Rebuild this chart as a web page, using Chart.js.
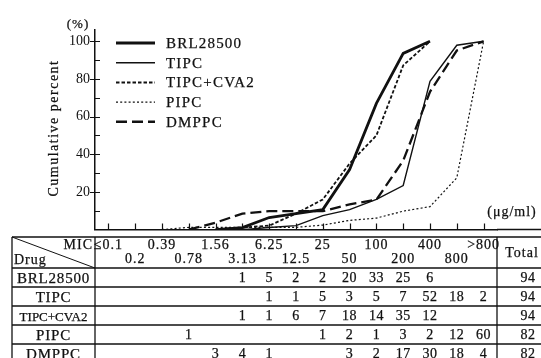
<!DOCTYPE html>
<html>
<head>
<meta charset="utf-8">
<script src="https://cdn.jsdelivr.net/npm/chart.js@4/dist/chart.umd.min.js"></script>
<style>
  html, body { margin: 0; padding: 0; background: #fff; }
  #wrap { position: relative; width: 541px; height: 358px; overflow: hidden; background: #fff;
          color: #111; font-family: "Liberation Serif", "DejaVu Serif", serif; }
  #cumChart { position: absolute; left: 0; top: 0; }
  .txt { position: absolute; white-space: nowrap; line-height: 1; transform: translate(-50%, -50%);
         -webkit-text-stroke: 0.25px #111; }
  #ytitle { left: 54px; top: 128px; font-size: 14px; letter-spacing: 1.5px;
            transform: translate(-50%, -50%) rotate(-90deg); }
  #lines { position: absolute; left: 0; top: 0; }
</style>
</head>
<body>
<div id="wrap">
  <canvas id="cumChart" width="541" height="243"></canvas>
  <div class="txt" style="left:78px;top:23px;font-size:13px;letter-spacing:1px">(%)</div>
  <div class="txt" id="ytitle">Cumulative percent</div>
  <div class="txt" style="left:512px;top:212px;font-size:14px;letter-spacing:1px">(μg/ml)</div>
  <svg id="lines" width="541" height="358"></svg>
  <div id="legend"></div>
  <div id="table"></div>
</div>
<script>
// MIC classes (µg/ml)
const micLabels = ['≤0.1', '0.2', '0.39', '0.78', '1.56', '3.13', '6.25', '12.5', '25', '50', '100', '200', '400', '800', '>800'];
const drugNames = ['BRL28500', 'TIPC', 'TIPC+CVA2', 'PIPC', 'DMPPC'];

// cumulative percent
const brlCum   = [null, null, null, null, 0, 1.1, 6.4, 8.5, 10.6, 31.9, 67.0, 93.6, 100, null, null];
const tipcCum  = [null, null, null, null, null, 0, 1.1, 2.1, 7.4, 10.6, 16.0, 23.4, 78.7, 97.9, 100];
const cva2Cum  = [null, null, null, null, 0, 1.1, 2.1, 8.5, 16.0, 35.1, 50.0, 87.2, 100, null, null];
const pipcCum  = [null, null, 0, 1.2, 1.2, 1.2, 1.2, 1.2, 2.4, 4.9, 6.1, 9.8, 12.2, 27.5, 100];
const dmppcCum = [null, null, null, 0, 3.7, 8.5, 9.8, 9.8, 9.8, 13.4, 15.9, 36.6, 73.2, 95.1, 100];

// number of strains per MIC class (table under the graph)
const brlCount   = [null, null, null, null, null, 1, 5, 2, 2, 20, 33, 25, 6, null, null];
const tipcCount  = [null, null, null, null, null, null, 1, 1, 5, 3, 5, 7, 52, 18, 2];
const cva2Count  = [null, null, null, null, null, 1, 1, 6, 7, 18, 14, 35, 12, null, null];
const pipcCount  = [null, null, null, 1, null, null, null, null, 1, 2, 1, 3, 2, 12, 60];
const dmppcCount = [null, null, null, null, 3, 4, 1, null, null, 3, 2, 17, 30, 18, 4];
const totals = [94, 94, 94, 82, 82];

const yTickLabels = [20, 40, 60, 80, 100];

const INK = '#111';
const cumData = [brlCum, tipcCum, cva2Cum, pipcCum, dmppcCum];
const countData = [brlCount, tipcCount, cva2Count, pipcCount, dmppcCount];
const lineWidths = [2.8, 1.4, 1.8, 1.2, 2.3];
const lineDashes = [[], [], [3.5, 2], [2, 2.2], [11, 5]];

// petits traits de graduation, tournés vers l'intérieur
const tickMarks = {
  id: 'tickMarks',
  afterDraw(chart) {
    const { ctx, chartArea, scales: { x, y } } = chart;
    ctx.save();
    ctx.strokeStyle = INK;
    ctx.lineWidth = 1.2;
    ctx.beginPath();
    y.ticks.forEach(t => {
      if (t.value <= 0 || t.value > 100) return;
      const py = Math.round(y.getPixelForValue(t.value)) + 0.5;
      const major = yTickLabels.includes(t.value);
      ctx.moveTo(chartArea.left - (major ? 5 : 0), py);
      ctx.lineTo(chartArea.left + 5, py);
    });
    x.ticks.forEach((t, i) => {
      const px = Math.round(x.getPixelForTick(i)) + 0.5;
      ctx.moveTo(px, chartArea.bottom);
      ctx.lineTo(px, chartArea.bottom - 6);
    });
    ctx.stroke();
    // baseline runs on to the page edge
    ctx.lineWidth = 1.5;
    ctx.beginPath();
    ctx.moveTo(chartArea.right, chartArea.bottom);
    ctx.lineTo(chart.width, chartArea.bottom);
    ctx.stroke();
    ctx.restore();
  }
};

const chart = new Chart(document.getElementById('cumChart'), {
  type: 'line',
  data: {
    labels: micLabels,
    datasets: drugNames.map((name, i) => ({
      label: name,
      data: cumData[i],
      borderColor: INK,
      borderWidth: lineWidths[i],
      borderDash: lineDashes[i],
      pointRadius: 0,
      fill: false,
      tension: 0,
      spanGaps: false
    }))
  },
  options: {
    responsive: false,
    animation: false,
    layout: { padding: { top: 30, right: 44, bottom: 0, left: 0 } },
    plugins: { legend: { display: false }, tooltip: { enabled: false } },
    scales: {
      x: {
        type: 'category',
        offset: true,
        ticks: { display: false },
        grid: { display: false, drawTicks: false },
        border: { display: true, color: INK, width: 1.5 },
        afterFit: s => { s.height = 0; }
      },
      y: {
        min: 0,
        max: 106,
        ticks: {
          stepSize: 10,
          includeBounds: false,
          autoSkip: false,
          padding: 5,
          color: INK,
          font: { family: 'Liberation Serif', size: 14 },
          callback: v => (yTickLabels.includes(v) ? v : '')
        },
        grid: { display: false, drawTicks: false },
        border: { display: true, color: INK, width: 1.5 },
        afterFit: s => { s.width = 95; }
      }
    }
  },
  plugins: [tickMarks]
});

function putText(parent, str, x, y, css) {
  const d = document.createElement('div');
  d.className = 'txt';
  d.textContent = str;
  d.style.left = x + 'px';
  d.style.top = y + 'px';
  Object.assign(d.style, css || {});
  parent.appendChild(d);
  return d;
}

// légende
const legend = document.getElementById('legend');
const svgNS = 'http://www.w3.org/2000/svg';
const lines = document.getElementById('lines');
function svgLine(x1, y1, x2, y2, w, dash) {
  const l = document.createElementNS(svgNS, 'line');
  l.setAttribute('x1', x1); l.setAttribute('y1', y1);
  l.setAttribute('x2', x2); l.setAttribute('y2', y2);
  l.setAttribute('stroke', INK);
  l.setAttribute('stroke-width', w);
  if (dash && dash.length) l.setAttribute('stroke-dasharray', dash.join(' '));
  lines.appendChild(l);
}
drugNames.forEach((name, i) => {
  const cy = 43 + i * 19.7;
  svgLine(116, cy, 155, cy, lineWidths[i] + 0.2, lineDashes[i]);
  putText(legend, name, 166, cy, { fontSize: '15px', letterSpacing: '1.2px', transform: 'translate(0,-50%)' });
});

// tableau
const table = document.getElementById('table');
const rowEdges = [237, 268, 287, 306, 325, 344];
const xs = chart.scales.x;
const colLeft = chart.chartArea.left;
const colRight = chart.chartArea.right;
rowEdges.forEach(y => svgLine(12, y, 541, y, 1.3));
[12, colLeft, colRight].forEach(x => svgLine(x, 237, x, 358, 1.3));
svgLine(12, 237, colLeft, 268, 1);

putText(table, 'MIC', colLeft - 2, 245, { fontSize: '14px', letterSpacing: '1px', transform: 'translate(-100%,-50%)' });
putText(table, 'Drug', 14, 260, { fontSize: '14px', letterSpacing: '1px', transform: 'translate(0,-50%)' });
putText(table, 'Total', 522, 253, { fontSize: '14px', letterSpacing: '1px' });
micLabels.forEach((lab, i) => {
  putText(table, lab, xs.getPixelForValue(i), i % 2 === 0 ? 245 : 259, { fontSize: '14px', letterSpacing: '1px' });
});

drugNames.forEach((name, r) => {
  const cy = (rowEdges[r + 1] + (rowEdges[r + 2] || 363)) / 2;
  const small = name.length > 8;
  putText(table, name, (12 + colLeft) / 2, cy, { fontSize: small ? '13px' : '15px', letterSpacing: small ? '0px' : '0.8px' });
  countData[r].forEach((n, i) => {
    if (n === null) return;
    putText(table, String(n), xs.getPixelForValue(i), cy, { fontSize: '14px', letterSpacing: '0.5px' });
  });
  putText(table, String(totals[r]), 528, cy, { fontSize: '14px', letterSpacing: '0.5px' });
});
</script>
</body>
</html>
